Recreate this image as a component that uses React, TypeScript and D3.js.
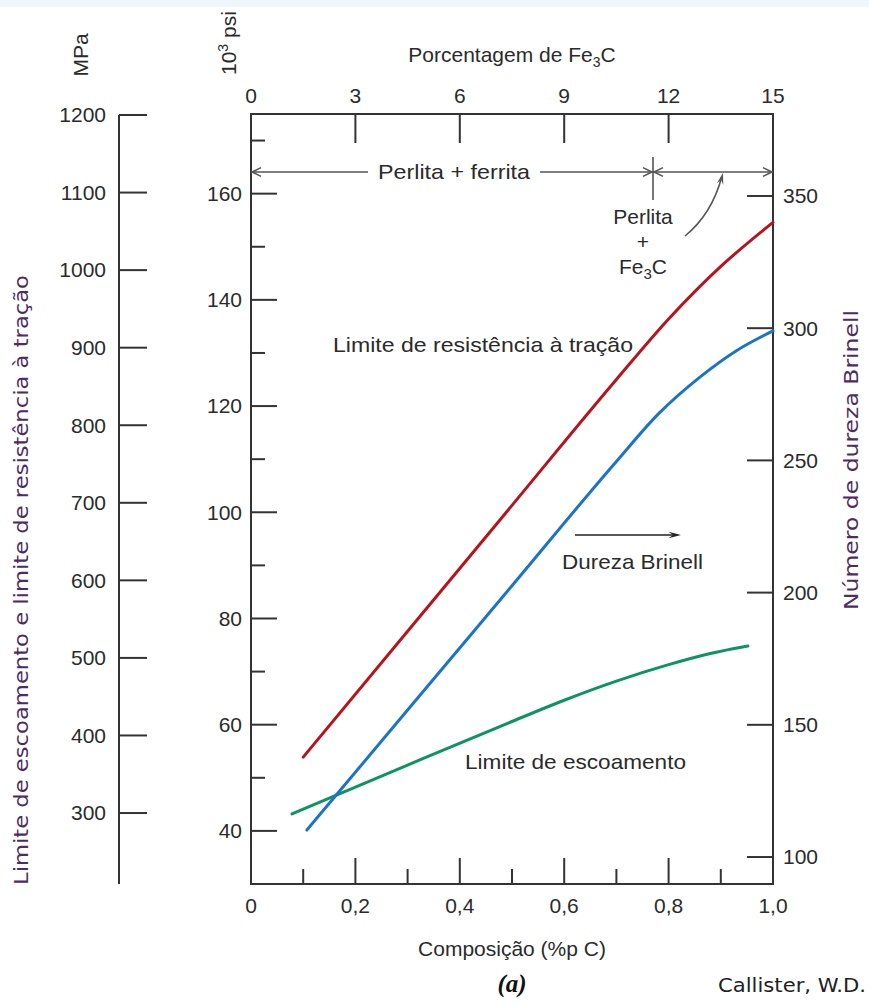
import React from "react";
import * as d3 from "d3";

// ---------- data ----------
const carbonTicks = [0, 0.2, 0.4, 0.6, 0.8, 1.0];
const carbonTickLabels = ["0", "0,2", "0,4", "0,6", "0,8", "1,0"];
const carbonMinorTicks = [0.1, 0.3, 0.5, 0.7, 0.9];
const fe3cTicks = [0, 3, 6, 9, 12, 15];
const mpaTicks = [300, 400, 500, 600, 700, 800, 900, 1000, 1100, 1200];
const ksiTicks = [40, 60, 80, 100, 120, 140, 160];
const ksiMinorTicks = [50, 70, 90, 110, 130, 150, 170];
const hbTicks = [100, 150, 200, 250, 300, 350];

// Tensile strength (10^3 psi)
const tensileC = [0.1, 0.3, 0.5, 0.7, 0.8, 0.9, 1.0];
const tensileKsi = [53.9, 77.6, 101.3, 125.0, 136.4, 146.3, 154.6];
// Brinell hardness
const hardnessC = [0.107, 0.3, 0.5, 0.7, 0.78, 0.86, 0.93, 1.0];
const hardnessHB = [110.2, 155.6, 202.6, 249.6, 267.5, 281.5, 291.5, 299];
// Yield strength (10^3 psi)
const yieldC = [0.0785, 0.3, 0.5, 0.6, 0.7, 0.8, 0.88, 0.952];
const yieldKsi = [43.2, 52.4, 60.6, 64.6, 68.2, 71.3, 73.4, 74.8];

const W = 869;
const H = 1005;

const TXT = "#2b2b2b";
const AX = "#333";
const FONT = "'Liberation Sans', Arial, sans-serif";
const GOTHIC = "'DejaVu Sans', sans-serif";

function chevron(tx: number, ty: number, dir: number, len = 10, spread = 0.45) {
  const a1 = dir + Math.PI - spread;
  const a2 = dir + Math.PI + spread;
  return `M${tx + len * Math.cos(a1)},${ty + len * Math.sin(a1)}L${tx},${ty}L${tx + len * Math.cos(a2)},${ty + len * Math.sin(a2)}`;
}
function headTri(tx: number, ty: number, dir: number, len = 11, spread = 0.3) {
  const a1 = dir + Math.PI - spread;
  const a2 = dir + Math.PI + spread;
  return `M${tx},${ty}L${tx + len * Math.cos(a1)},${ty + len * Math.sin(a1)}L${tx + len * 0.6 * Math.cos(dir + Math.PI)},${ty + len * 0.6 * Math.sin(dir + Math.PI)}L${tx + len * Math.cos(a2)},${ty + len * Math.sin(a2)}Z`;
}

export default function App() {
  const x = d3.scaleLinear().domain([0, 1]).range([251, 773]);
  const xTop = d3.scaleLinear().domain([0, 15]).range([251, 773]);
  const yKsi = d3.scaleLinear().domain([30, 175]).range([884, 114]);
  const yMPa = d3.scaleLinear().domain([208.5, 1200]).range([884, 115]);
  const yHB = d3.scaleLinear().domain([89.8, 381]).range([884, 114]);

  const mk = (xs: number[], ys: number[], ys2: d3.ScaleLinear<number, number>) =>
    d3
      .line<number>()
      .x((d) => x(d))
      .y((_, i) => ys2(ys[i]))
      .curve(d3.curveMonotoneX)(xs) as string;

  const x0 = x(0), x1 = x(1);
  const yTop = 114, yBot = 884;
  const arrowY = 172;
  const splitX = 653;

  return (
    <svg width={W} height={H} style={{ position: "absolute", left: 0, top: 0, background: "#fff" }}>
      <rect x={0} y={0} width={W} height={H} fill="#fff" />

      {/* MPa outer axis */}
      <line x1={119} x2={119} y1={yMPa(1200)} y2={yBot} stroke={AX} strokeWidth={2} />
      {mpaTicks.map((v) => (
        <g key={"m" + v}>
          <line x1={119} x2={147} y1={yMPa(v)} y2={yMPa(v)} stroke={AX} strokeWidth={2} />
          <text x={106} y={yMPa(v)} dy="0.35em" textAnchor="end" fontFamily={FONT} fontSize={21} fill={TXT}>
            {v}
          </text>
        </g>
      ))}

      {/* plot box */}
      <rect x={x0} y={yTop} width={x1 - x0} height={yBot - yTop} fill="none" stroke={AX} strokeWidth={2} />

      {/* ksi inner axis */}
      {ksiTicks.map((v) => (
        <g key={"k" + v}>
          <line x1={x0} x2={x0 + 26} y1={yKsi(v)} y2={yKsi(v)} stroke={AX} strokeWidth={2} />
          <text x={242} y={yKsi(v)} dy="0.35em" textAnchor="end" fontFamily={FONT} fontSize={21} fill={TXT}>
            {v}
          </text>
        </g>
      ))}
      {ksiMinorTicks.map((v) => (
        <line key={"km" + v} x1={x0} x2={x0 + 14} y1={yKsi(v)} y2={yKsi(v)} stroke={AX} strokeWidth={2} />
      ))}

      {/* HB right axis */}
      {hbTicks.map((v) => (
        <g key={"h" + v}>
          <line x1={x1 - 26} x2={x1} y1={yHB(v)} y2={yHB(v)} stroke={AX} strokeWidth={2} />
          <text x={783} y={yHB(v)} dy="0.35em" textAnchor="start" fontFamily={FONT} fontSize={21} fill={TXT}>
            {v}
          </text>
        </g>
      ))}

      {/* bottom axis */}
      {carbonTicks.map((v, i) => (
        <g key={"c" + v}>
          {i > 0 && i < carbonTicks.length - 1 && (
            <line x1={x(v)} x2={x(v)} y1={yBot} y2={yBot - 26} stroke={AX} strokeWidth={2} />
          )}
          <text x={x(v)} y={913} textAnchor="middle" fontFamily={FONT} fontSize={21} fill={TXT}>
            {carbonTickLabels[i]}
          </text>
        </g>
      ))}
      {carbonMinorTicks.map((v) => (
        <line key={"cm" + v} x1={x(v)} x2={x(v)} y1={yBot} y2={yBot - 15} stroke={AX} strokeWidth={2} />
      ))}

      {/* top axis */}
      {fe3cTicks.map((v, i) => (
        <g key={"f" + v}>
          {i > 0 && i < fe3cTicks.length - 1 && (
            <line x1={xTop(v)} x2={xTop(v)} y1={yTop} y2={yTop + 29} stroke={AX} strokeWidth={2} />
          )}
          <text x={xTop(v)} y={103} textAnchor="middle" fontFamily={FONT} fontSize={21} fill={TXT}>
            {v}
          </text>
        </g>
      ))}

      {/* curves */}
      <path d={mk(yieldC, yieldKsi, yKsi)} fill="none" stroke="#0e9460" strokeWidth={3} strokeLinecap="round" />
      <path d={mk(hardnessC, hardnessHB, yHB)} fill="none" stroke="#1b74c6" strokeWidth={3} strokeLinecap="round" />
      <path d={mk(tensileC, tensileKsi, yKsi)} fill="none" stroke="#b8141d" strokeWidth={3} strokeLinecap="round" />

      {/* phase annotation arrows */}
      <g stroke="#555" strokeWidth={1.6} fill="none">
        <line x1={x0} x2={368} y1={arrowY} y2={arrowY} />
        <line x1={540} x2={splitX} y1={arrowY} y2={arrowY} />
        <line x1={splitX} x2={x1} y1={arrowY} y2={arrowY} />
        <path d={chevron(x0 + 1, arrowY, Math.PI)} />
        <path d={chevron(splitX - 1, arrowY, 0)} />
        <path d={chevron(splitX + 1, arrowY, Math.PI)} />
        <path d={chevron(x1 - 1, arrowY, 0)} />
        <line x1={splitX} x2={splitX} y1={157} y2={200} />
        <path d="M685,236 Q712,214 722,176" />
      </g>
      <path d={headTri(723, 173, Math.atan2(176 - 214, 722 - 712), 12, 0.28)} fill="#555" />

      {/* Dureza arrow */}
      <line x1={575} x2={676} y1={535} y2={535} stroke="#222" strokeWidth={1.6} />
      <path d={headTri(681, 535, 0, 13, 0.25)} fill="#222" />

      {/* annotation texts */}
      <g fontFamily={FONT} fontSize={21} fill={TXT}>
        <text x={378} y={179} textLength={152} lengthAdjust="spacingAndGlyphs">Perlita + ferrita</text>
        <text x={643} y={224} textAnchor="middle">Perlita</text>
        <text x={643} y={249} textAnchor="middle">+</text>
        <text x={643} y={274} textAnchor="middle">
          Fe<tspan fontSize={15} dy={5}>3</tspan><tspan dy={-5}>C</tspan>
        </text>
        <text x={333} y={352} textLength={300} lengthAdjust="spacingAndGlyphs">Limite de resistência à tração</text>
        <text x={562} y={569} textLength={141} lengthAdjust="spacingAndGlyphs">Dureza Brinell</text>
        <text x={465} y={769} textLength={221} lengthAdjust="spacingAndGlyphs">Limite de escoamento</text>
        <text x={512} y={62} textAnchor="middle">
          Porcentagem de Fe<tspan fontSize={14} dy={5}>3</tspan><tspan dy={-5}>C</tspan>
        </text>
        <text x={512} y={956} textAnchor="middle">Composição (%p C)</text>
        <text transform="translate(88,55) rotate(-90)" textAnchor="middle">MPa</text>
        <text transform="translate(236,75) rotate(-90)" textAnchor="start">
          10<tspan fontSize={14} dy={-8}>3</tspan><tspan dy={8}> psi</tspan>
        </text>
      </g>

      {/* side labels */}
      <text transform="translate(28,580) rotate(-90)" textAnchor="middle" fontFamily={GOTHIC} fontSize={19} fill="#4e2c63" textLength={610} lengthAdjust="spacingAndGlyphs">
        Limite de escoamento e limite de resistência à tração
      </text>
      <text transform="translate(858,460) rotate(-90)" textAnchor="middle" fontFamily={GOTHIC} fontSize={19} fill="#4e2c63" textLength={300} lengthAdjust="spacingAndGlyphs">
        Número de dureza Brinell
      </text>

      <text x={512} y={992} textAnchor="middle" fontFamily="'Liberation Serif', serif" fontWeight="bold" fontStyle="italic" fontSize={25} fill="#111">
        (a)
      </text>
      <text x={718} y={992} fontFamily={GOTHIC} fontSize={19} fill="#222" textLength={148} lengthAdjust="spacingAndGlyphs">
        Callister, W.D.
      </text>

      {/* light band at top */}
      <rect x={0} y={0} width={W} height={7} fill="#eef5fb" />
    </svg>
  );
}
